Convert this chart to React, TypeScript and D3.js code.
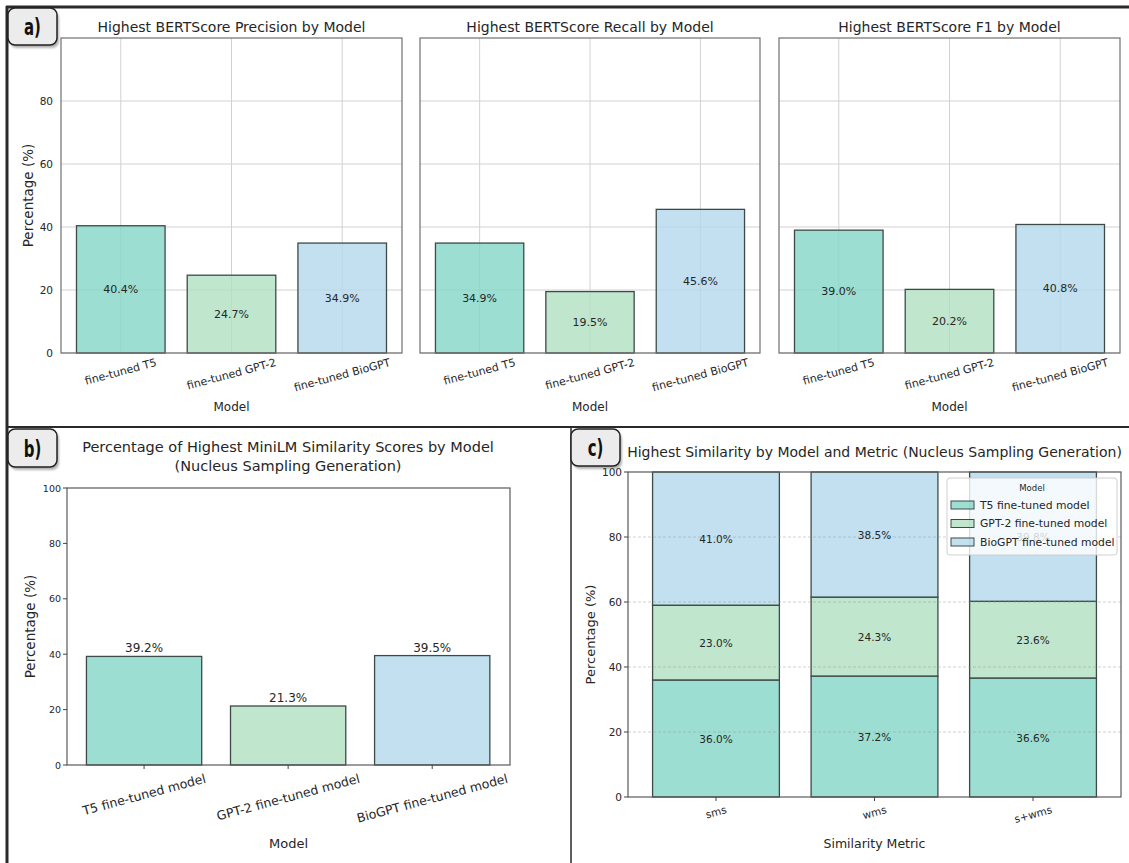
import React from 'react';
import * as d3 from 'd3';

// ---- data ----
const bertModels = ['fine-tuned T5', 'fine-tuned GPT-2', 'fine-tuned BioGPT'];
const precisionValues = [40.4, 24.7, 34.9];
const recallValues = [34.9, 19.5, 45.6];
const f1Values = [39.0, 20.2, 40.8];
const bertTitles = [
  'Highest BERTScore Precision by Model',
  'Highest BERTScore Recall by Model',
  'Highest BERTScore F1 by Model',
];

const miniLmModels = ['T5 fine-tuned model', 'GPT-2 fine-tuned model', 'BioGPT fine-tuned model'];
const miniLmValues = [39.2, 21.3, 39.5];

const metrics = ['sms', 'wms', 's+wms'];
const t5Shares = [36.0, 37.2, 36.6];
const gpt2Shares = [23.0, 24.3, 23.6];
const bioGptShares = [41.0, 38.5, 39.8];
const legendModels = ['T5 fine-tuned model', 'GPT-2 fine-tuned model', 'BioGPT fine-tuned model'];

const yTicksA = [0, 20, 40, 60, 80];
const yTicksBC = [0, 20, 40, 60, 80, 100];

// ---- style ----
const FONT = '"DejaVu Sans", Verdana, sans-serif';
const TEXT = '#262626';
const modelColors = ['#84d6c7', '#b0e0c0', '#b3d8ec'];
const EDGE = '#3d4a48';
const W = 1129;
const H = 863;

let measureCtx: CanvasRenderingContext2D | null = null;
function textWidth(s: string, size: number): number {
  if (!measureCtx) measureCtx = document.createElement('canvas').getContext('2d');
  if (!measureCtx) return s.length * size * 0.6;
  measureCtx.font = `${size}px "DejaVu Sans"`;
  return measureCtx.measureText(s).width;
}

// rotated tick label, centred under its tick with the rotated box hanging from `top`
function RotLabel({ x, top, text, size, angle = 15 }: { x: number; top: number; text: string; size: number; angle?: number }) {
  const r = (angle * Math.PI) / 180;
  const w = textWidth(text, size);
  const boxH = w * Math.sin(r) + size * Math.cos(r);
  const cy = top + boxH / 2;
  return (
    <text
      transform={`translate(${x},${cy}) rotate(${-angle})`}
      textAnchor="middle"
      dominantBaseline="central"
      fontSize={size}
      fill={TEXT}
    >
      {text}
    </text>
  );
}

function PanelTag({ x, y, w, h, label }: { x: number; y: number; w: number; h: number; label: string }) {
  return (
    <g>
      <rect x={x + 2} y={y + 3} width={w} height={h} rx={7} fill="#555" opacity={0.45} filter="url(#tagShadow)" />
      <rect x={x} y={y} width={w} height={h} rx={7} fill="#ececec" stroke="#222" strokeWidth={1.5} />
      <text
        transform={`translate(${x + w / 2},${y + h / 2 + 1}) scale(0.68,1.05)`}
        textAnchor="middle"
        dominantBaseline="central"
        fontSize={22}
        fontWeight="bold"
        fill="#111"
      >
        {label}
      </text>
    </g>
  );
}

function BertPanel({ left, right, title, values, showY }: { left: number; right: number; title: string; values: number[]; showY: boolean }) {
  const top = 38;
  const bottom = 353;
  const x = d3.scaleLinear().domain([-0.54, 2.54]).range([left, right]);
  const y = d3.scaleLinear().domain([0, 100]).range([bottom, top]);
  const bw = x(0.4) - x(-0.4);
  const mid = (left + right) / 2;
  return (
    <g>
      <text x={mid} y={27} textAnchor="middle" dominantBaseline="central" fontSize={14} fill={TEXT}>
        {title}
      </text>
      {yTicksA.map((t) => (
        <line key={`h${t}`} x1={left} x2={right} y1={y(t)} y2={y(t)} stroke="#d2d2d2" strokeWidth={1} />
      ))}
      {bertModels.map((m, i) => (
        <line key={`v${m}`} x1={x(i)} x2={x(i)} y1={top} y2={bottom} stroke="#d2d2d2" strokeWidth={1} />
      ))}
      {values.map((v, i) => (
        <rect
          key={`b${i}`}
          x={x(i) - bw / 2}
          y={y(v)}
          width={bw}
          height={y(0) - y(v)}
          fill={modelColors[i]}
          fillOpacity={0.8}
          stroke={EDGE}
          strokeWidth={1.3}
        />
      ))}
      {values.map((v, i) => (
        <text key={`l${i}`} x={x(i)} y={y(v / 2)} textAnchor="middle" dominantBaseline="central" fontSize={11} fill={TEXT}>
          {`${v.toFixed(1)}%`}
        </text>
      ))}
      <rect x={left} y={top} width={right - left} height={bottom - top} fill="none" stroke="#707070" strokeWidth={1.2} />
      {showY &&
        yTicksA.map((t) => (
          <text key={`yt${t}`} x={left - 8} y={y(t)} textAnchor="end" dominantBaseline="central" fontSize={10.5} fill={TEXT}>
            {t}
          </text>
        ))}
      {showY && (
        <text transform={`translate(28,${(top + bottom) / 2}) rotate(-90)`} textAnchor="middle" dominantBaseline="central" fontSize={13.5} fill={TEXT}>
          Percentage (%)
        </text>
      )}
      {bertModels.map((m, i) => (
        <RotLabel key={`xt${m}`} x={x(i)} top={bottom + 4} text={m} size={11} />
      ))}
      <text x={mid} y={407} textAnchor="middle" dominantBaseline="central" fontSize={12} fill={TEXT}>
        Model
      </text>
    </g>
  );
}

function MiniLmPanel() {
  const left = 67;
  const right = 510;
  const top = 488;
  const bottom = 765;
  const x = d3.scaleLinear().domain([-0.535, 2.54]).range([left, right]);
  const y = d3.scaleLinear().domain([0, 100]).range([bottom, top]);
  const bw = x(0.4) - x(-0.4);
  const mid = (left + right) / 2;
  return (
    <g>
      <text x={288} y={447} textAnchor="middle" dominantBaseline="central" fontSize={14.5} fill={TEXT}>
        Percentage of Highest MiniLM Similarity Scores by Model
      </text>
      <text x={288} y={466} textAnchor="middle" dominantBaseline="central" fontSize={14.5} fill={TEXT}>
        (Nucleus Sampling Generation)
      </text>
      {miniLmValues.map((v, i) => (
        <rect
          key={`b${i}`}
          x={x(i) - bw / 2}
          y={y(v)}
          width={bw}
          height={y(0) - y(v)}
          fill={modelColors[i]}
          fillOpacity={0.8}
          stroke={EDGE}
          strokeWidth={1.3}
        />
      ))}
      {miniLmValues.map((v, i) => (
        <text key={`l${i}`} x={x(i)} y={y(v) - 4} textAnchor="middle" fontSize={12} fill={TEXT}>
          {`${v.toFixed(1)}%`}
        </text>
      ))}
      <rect x={left} y={top} width={right - left} height={bottom - top} fill="none" stroke="#5a5a5a" strokeWidth={1.2} />
      {yTicksBC.map((t) => (
        <g key={`yt${t}`}>
          <line x1={left - 4} x2={left} y1={y(t)} y2={y(t)} stroke="#444" strokeWidth={1} />
          <text x={left - 6} y={y(t)} textAnchor="end" dominantBaseline="central" fontSize={9.5} fill={TEXT}>
            {t}
          </text>
        </g>
      ))}
      {miniLmModels.map((m, i) => (
        <g key={`xt${m}`}>
          <line x1={x(i)} x2={x(i)} y1={bottom} y2={bottom + 4} stroke="#444" strokeWidth={1} />
          <RotLabel x={x(i)} top={bottom + 7} text={m} size={12.5} />
        </g>
      ))}
      <text transform={`translate(30,${(top + bottom) / 2}) rotate(-90)`} textAnchor="middle" dominantBaseline="central" fontSize={13.5} fill={TEXT}>
        Percentage (%)
      </text>
      <text x={mid} y={843} textAnchor="middle" dominantBaseline="central" fontSize={13} fill={TEXT}>
        Model
      </text>
    </g>
  );
}

function SimilarityPanel() {
  const left = 628;
  const right = 1121;
  const top = 472;
  const bottom = 797;
  const x = d3.scaleLinear().domain([-0.555, 2.555]).range([left, right]);
  const y = d3.scaleLinear().domain([0, 100]).range([bottom, top]);
  const bw = x(0.4) - x(-0.4);
  const keys = ['t5', 'gpt2', 'bio'];
  const rows = metrics.map((m, i) => ({ metric: m, t5: t5Shares[i], gpt2: gpt2Shares[i], bio: bioGptShares[i] }));
  const series = d3.stack<any>().keys(keys)(rows);
  const mid = (left + right) / 2;
  return (
    <g>
      <text x={mid} y={452} textAnchor="middle" dominantBaseline="central" fontSize={14} fill={TEXT}>
        Highest Similarity by Model and Metric (Nucleus Sampling Generation)
      </text>
      {series.map((s, k) =>
        s.map((d, i) => (
          <rect
            key={`${k}-${i}`}
            x={x(i) - bw / 2}
            y={y(d[1])}
            width={bw}
            height={y(d[0]) - y(d[1])}
            fill={modelColors[k]}
            fillOpacity={0.8}
            stroke={EDGE}
            strokeWidth={1.3}
          />
        ))
      )}
      {yTicksBC.slice(1, -1).map((t) => (
        <line key={`g${t}`} x1={left} x2={right} y1={y(t)} y2={y(t)} stroke="#9a9a9a" strokeOpacity={0.45} strokeWidth={1} strokeDasharray="3,2" />
      ))}
      {series.map((s, k) =>
        s.map((d, i) => (
          <text key={`t${k}-${i}`} x={x(i)} y={y((d[0] + d[1]) / 2)} textAnchor="middle" dominantBaseline="central" fontSize={10.5} fill={TEXT}>
            {`${(d[1] - d[0]).toFixed(1)}%`}
          </text>
        ))
      )}
      <rect x={left} y={top} width={right - left} height={bottom - top} fill="none" stroke="#5a5a5a" strokeWidth={1.2} />
      {yTicksBC.map((t) => (
        <g key={`yt${t}`}>
          <line x1={left - 4} x2={left} y1={y(t)} y2={y(t)} stroke="#444" strokeWidth={1} />
          <text x={left - 6} y={y(t)} textAnchor="end" dominantBaseline="central" fontSize={10.5} fill={TEXT}>
            {t}
          </text>
        </g>
      ))}
      {metrics.map((m, i) => (
        <g key={`xt${m}`}>
          <line x1={x(i)} x2={x(i)} y1={bottom} y2={bottom + 4} stroke="#444" strokeWidth={1} />
          <RotLabel x={x(i)} top={bottom + 7} text={m} size={10.5} />
        </g>
      ))}
      <text transform={`translate(590,${(top + bottom) / 2}) rotate(-90)`} textAnchor="middle" dominantBaseline="central" fontSize={13} fill={TEXT}>
        Percentage (%)
      </text>
      <text x={mid} y={843} textAnchor="middle" dominantBaseline="central" fontSize={12.5} fill={TEXT}>
        Similarity Metric
      </text>
      {/* legend, semi-transparent so the segment label behind it shows through */}
      <g>
        <rect x={947} y={478} width={170} height={77} rx={3} fill="#fff" fillOpacity={0.8} stroke="#cfcfcf" strokeWidth={1} />
        <text x={1032} y={488} textAnchor="middle" dominantBaseline="central" fontSize={8.5} fill={TEXT}>
          Model
        </text>
        {legendModels.map((m, i) => (
          <g key={`lg${m}`}>
            <rect x={951} y={501 + i * 18.5} width={23} height={8} fill={modelColors[i]} fillOpacity={0.8} stroke={EDGE} strokeWidth={1} />
            <text x={980} y={505 + i * 18.5} dominantBaseline="central" fontSize={10.8} fill={TEXT}>
              {m}
            </text>
          </g>
        ))}
      </g>
    </g>
  );
}

export default function App() {
  const panelsA = [
    { left: 61, right: 402, values: precisionValues },
    { left: 420, right: 760, values: recallValues },
    { left: 779, right: 1120, values: f1Values },
  ];
  return (
    <svg
      width={W}
      height={H}
      viewBox={`0 0 ${W} ${H}`}
      style={{ position: 'absolute', left: 0, top: 0, background: '#fff', fontFamily: FONT }}
    >
      <defs>
        <filter id="tagShadow" x="-20%" y="-20%" width="140%" height="140%">
          <feGaussianBlur stdDeviation="1.2" />
        </filter>
      </defs>
      <rect x={0} y={0} width={W} height={H} fill="#fff" />
      {panelsA.map((p, i) => (
        <BertPanel key={bertTitles[i]} left={p.left} right={p.right} title={bertTitles[i]} values={p.values} showY={i === 0} />
      ))}
      <MiniLmPanel />
      <SimilarityPanel />

      {/* frame and dividers */}
      <line x1={6} x2={W} y1={7} y2={7} stroke="#2a2a2a" strokeWidth={3} />
      <line x1={7} x2={7} y1={6} y2={H} stroke="#2a2a2a" strokeWidth={3} />
      <line x1={7} x2={W} y1={427} y2={427} stroke="#2a2a2a" strokeWidth={2} />
      <line x1={571} x2={571} y1={427} y2={H} stroke="#2a2a2a" strokeWidth={1.5} />

      <PanelTag x={8} y={8} w={49} h={37} label="a)" />
      <PanelTag x={8} y={429} w={49} h={38} label="b)" />
      <PanelTag x={571} y={429} w={49} h={37} label="c)" />
    </svg>
  );
}
